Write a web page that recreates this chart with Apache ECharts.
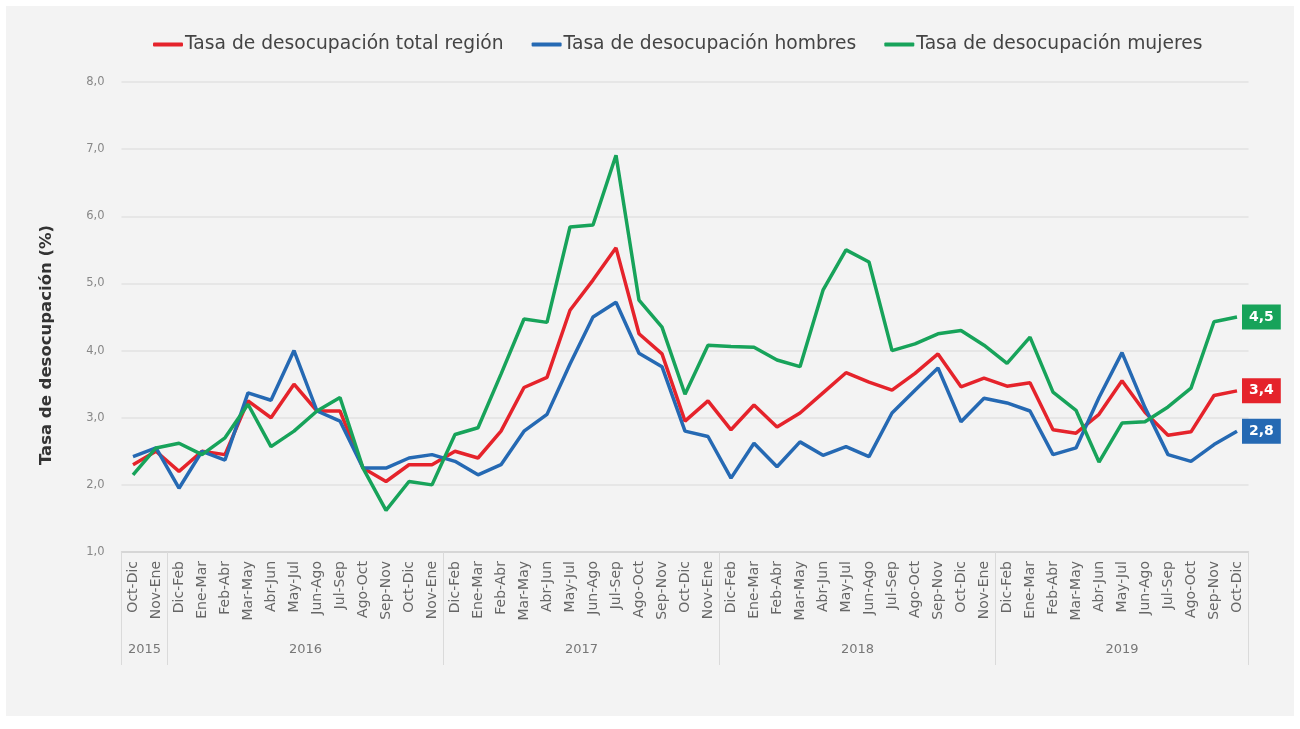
<!DOCTYPE html>
<html>
<head>
<meta charset="utf-8">
<script src="https://cdn.jsdelivr.net/npm/echarts@6/dist/echarts.min.js"></script>
<style>
  html, body { margin: 0; padding: 0; background: #ffffff; }
  #panel { position: absolute; left: 6px; top: 6px; width: 1288px; height: 710px; background: #f3f3f3; }
  #main { position: absolute; left: 0; top: 0; width: 1300px; height: 729px; }
</style>
</head>
<body>
<div id="panel"></div>
<div id="main"></div>
<script>
// periodos móviles (trimestres)
var periodos = [
  'Oct-Dic', 'Nov-Ene',
  'Dic-Feb', 'Ene-Mar', 'Feb-Abr', 'Mar-May', 'Abr-Jun', 'May-Jul', 'Jun-Ago', 'Jul-Sep', 'Ago-Oct', 'Sep-Nov', 'Oct-Dic', 'Nov-Ene',
  'Dic-Feb', 'Ene-Mar', 'Feb-Abr', 'Mar-May', 'Abr-Jun', 'May-Jul', 'Jun-Ago', 'Jul-Sep', 'Ago-Oct', 'Sep-Nov', 'Oct-Dic', 'Nov-Ene',
  'Dic-Feb', 'Ene-Mar', 'Feb-Abr', 'Mar-May', 'Abr-Jun', 'May-Jul', 'Jun-Ago', 'Jul-Sep', 'Ago-Oct', 'Sep-Nov', 'Oct-Dic', 'Nov-Ene',
  'Dic-Feb', 'Ene-Mar', 'Feb-Abr', 'Mar-May', 'Abr-Jun', 'May-Jul', 'Jun-Ago', 'Jul-Sep', 'Ago-Oct', 'Sep-Nov', 'Oct-Dic'
];
var anios = ['2015', '2016', '2017', '2018', '2019'];
var periodosPorAnio = [2, 12, 12, 12, 11];

var total = [2.3, 2.5, 2.2, 2.5, 2.45, 3.25, 3.0, 3.5, 3.1, 3.1, 2.25, 2.05, 2.3, 2.3,
  2.5, 2.4, 2.8, 3.45, 3.6, 4.6, 5.05, 5.53, 4.25, 3.95, 2.95, 3.25,
  2.82, 3.19, 2.86, 3.07, 3.37, 3.67, 3.53, 3.41, 3.66, 3.95, 3.46, 3.59,
  3.47, 3.52, 2.82, 2.77, 3.05, 3.55, 3.08, 2.74, 2.79, 3.33, 3.4];
var hombres = [2.42, 2.55, 1.95, 2.5, 2.37, 3.37, 3.26, 4.0, 3.1, 2.95, 2.25, 2.25, 2.4, 2.45,
  2.35, 2.15, 2.3, 2.8, 3.05, 3.8, 4.5, 4.72, 3.96, 3.76, 2.8, 2.72,
  2.1, 2.62, 2.27, 2.64, 2.44, 2.57, 2.42, 3.07, 3.41, 3.74, 2.94, 3.29,
  3.22, 3.1, 2.45, 2.55, 3.3, 3.97, 3.15, 2.45, 2.35, 2.6, 2.8];
var mujeres = [2.15, 2.55, 2.62, 2.45, 2.7, 3.2, 2.57, 2.8, 3.1, 3.3, 2.25, 1.62, 2.05, 2.0,
  2.75, 2.85, 3.65, 4.47, 4.42, 5.84, 5.87, 6.91, 4.75, 4.35, 3.35, 4.08,
  4.06, 4.05, 3.86, 3.76, 4.9, 5.5, 5.32, 4.0, 4.1, 4.25, 4.3, 4.08,
  3.81, 4.2, 3.38, 3.11, 2.34, 2.92, 2.94, 3.16, 3.44, 4.43, 4.5];

// año de cada periodo, inicio de cada grupo y posición de la etiqueta del año
var anioDePeriodo = [];
var iniciosGrupo = [];
var etiquetaAnio = {};
var k = 0;
for (var a = 0; a < anios.length; a++) {
  iniciosGrupo.push(k);
  var n = periodosPorAnio[a];
  etiquetaAnio[k + Math.floor((n - 1) / 2)] = (n % 2 === 0) ? 'par' : 'impar';
  for (var j = 0; j < n; j++) { anioDePeriodo.push(anios[a]); k++; }
}

function coma(v) { return v.toFixed(1).replace('.', ','); }

var colores = ['#e5232b', '#2569b3', '#17a35a'];
var fuente = 'DejaVu Sans';

var myChart = echarts.init(document.getElementById('main'));

function serie(nombre, datos, color) {
  return {
    name: nombre,
    type: 'line',
    data: datos,
    symbol: 'none',
    lineStyle: { width: 3.5, color: color },
    itemStyle: { color: color },
    endLabel: {
      show: true,
      formatter: function (p) { return coma(p.value); },
      backgroundColor: color,
      color: '#fff',
      fontWeight: 'bold',
      fontSize: 14,
      fontFamily: fuente,
      padding: [6, 7, 5, 7],
      distance: 5
    }
  };
}

var option = {
  animation: false,
  textStyle: { fontFamily: fuente },
  legend: {
    top: 30,
    left: 148,
    itemWidth: 30,
    itemHeight: 4,
    itemGap: 28,
    icon: 'roundRect',
    textStyle: { fontSize: 18.7, color: '#444', fontFamily: fuente, padding: [0, 0, 0, -3] },
    data: ['Tasa de desocupación total región', 'Tasa de desocupación hombres', 'Tasa de desocupación mujeres']
  },
  grid: { left: 121.5, right: 51.5, top: 82, bottom: 177 },
  xAxis: [{
    type: 'category',
    data: periodos,
    boundaryGap: true,
    axisLine: { lineStyle: { color: '#d0d0d0', width: 1.5 } },
    axisTick: { show: false },
    axisLabel: { interval: 0, rotate: 90, fontSize: 14, color: '#666', margin: 9, fontFamily: fuente }
  }, {
    type: 'category',
    data: anioDePeriodo,
    position: 'bottom',
    boundaryGap: true,
    axisLine: { show: false },
    axisTick: {
      show: true,
      length: 113,
      interval: function (i) { return iniciosGrupo.indexOf(i) >= 0; },
      lineStyle: { color: '#dadada', width: 1 }
    },
    axisLabel: {
      interval: function (i) { return etiquetaAnio[i] !== undefined; },
      margin: 91,
      fontSize: 13,
      color: '#777',
      fontFamily: fuente,
      formatter: function (v, i) {
        return etiquetaAnio[i] === 'par' ? '{p|' + v + '}' : v;
      },
      rich: { p: { padding: [0, 0, 0, 23], fontSize: 13, color: '#777', fontFamily: fuente } }
    }
  }],
  yAxis: {
    type: 'value',
    min: 1,
    max: 8,
    interval: 1,
    name: 'Tasa de desocupación (%)',
    nameLocation: 'middle',
    nameGap: 66,
    nameTextStyle: { fontSize: 16.5, fontWeight: 'bold', color: '#333', fontFamily: fuente, padding: [0, 56, 0, 0] },
    axisLine: { show: false },
    axisTick: { show: false },
    axisLabel: { fontSize: 11.5, color: '#888', margin: 17, formatter: coma, fontFamily: fuente },
    splitLine: { lineStyle: { color: '#e2e2e2', width: 1.5 } }
  },
  series: [
    serie('Tasa de desocupación total región', total, colores[0]),
    serie('Tasa de desocupación hombres', hombres, colores[1]),
    serie('Tasa de desocupación mujeres', mujeres, colores[2])
  ]
};

myChart.setOption(option);
</script>
</body>
</html>
